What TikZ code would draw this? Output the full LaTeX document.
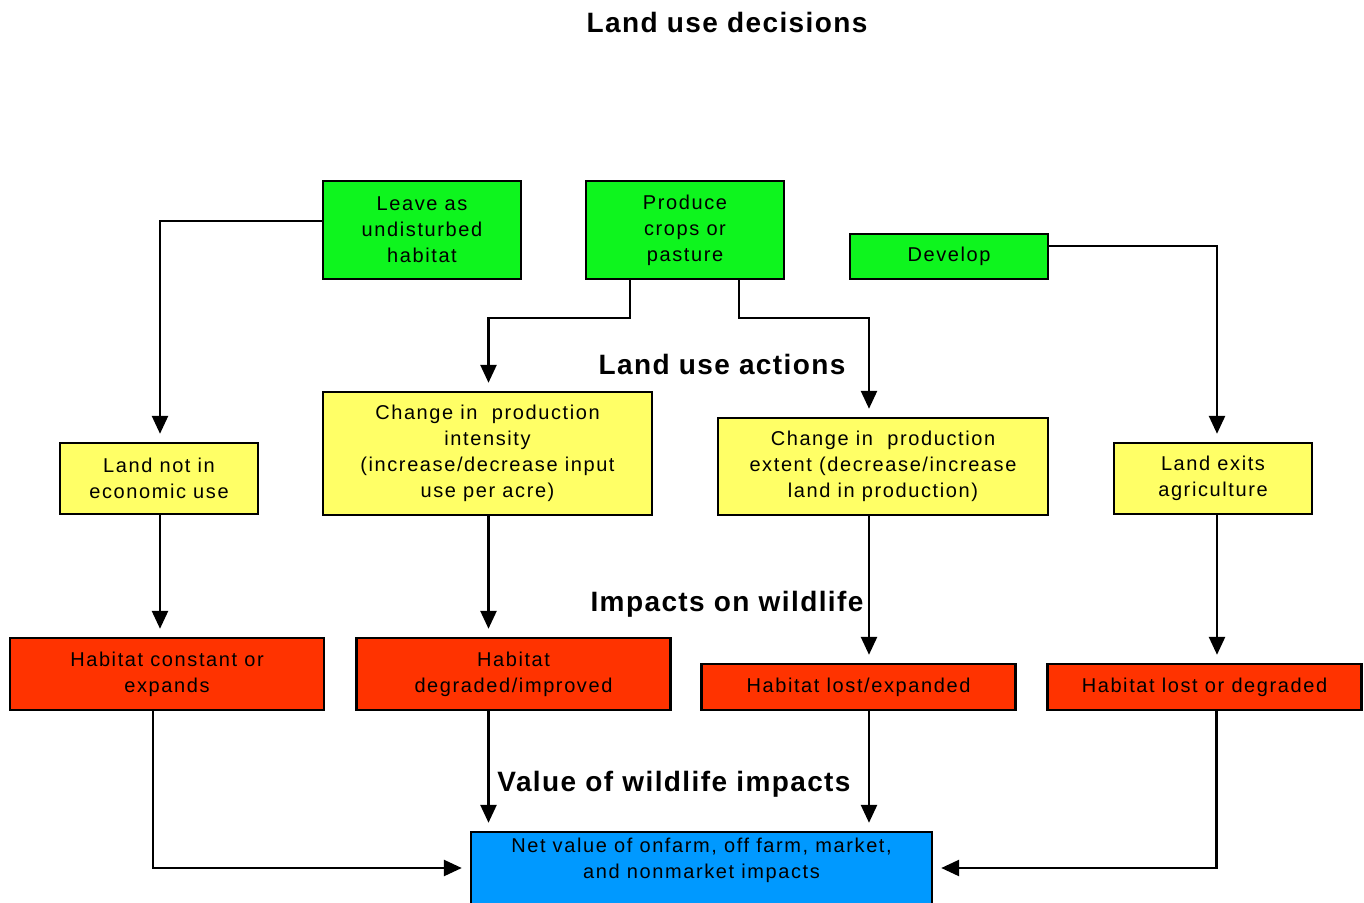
\documentclass[tikz,border=0pt]{standalone}
\usepackage{fontspec}
\setmainfont{Liberation Sans}
\usepackage{xcolor}
\usetikzlibrary{arrows.meta, positioning}
\definecolor{landgreen}{RGB}{14, 245, 30}
\definecolor{landyellow}{RGB}{255, 255, 102}
\definecolor{landred}{RGB}{255, 51, 0}
\definecolor{landblue}{RGB}{0, 153, 255}
\newfontfamily\boxfont[LetterSpace=8]{Liberation Sans}
\newfontfamily\headfont[LetterSpace=5]{Liberation Sans}

\begin{document}
\begin{tikzpicture}[
    x=0.5pt, y=-0.5pt,
    box/.style={draw, line width=1.2pt, align=center, inner sep=2pt, font=\boxfont\fontsize{10}{13}\selectfont},
    decision/.style={box, fill=landgreen, minimum width=99pt},
    action/.style={box, fill=landyellow},
    impact/.style={box, fill=landred, minimum width=157pt},
    value/.style={box, fill=landblue, minimum width=230.5pt},
    trans/.style={-{Triangle[length=9pt, width=8pt]}, line width=1.3pt, shorten >=4pt},
    heading/.style={font=\headfont\bfseries\fontsize{14}{16}\selectfont},
]
\useasboundingbox (0,0) rectangle (1364,903);

% Headings
\node[heading] (hdecide) at (727,22) {Land use decisions};
\node[heading] (hact) at (722,364) {Land use actions};
\node[heading] (himpact) at (727,604) {Impacts on wildlife};
\node[heading] (hvalue) at (674,784) {Value of wildlife impacts};

% Decisions
\node[decision, minimum height=49pt] (leave) at (422,230) {Leave as\\undisturbed\\habitat};
\node[decision, minimum height=49pt] (produce) at (685,230) {Produce\\crops or\\pasture};
\node[decision, minimum height=22.5pt] (develop) at (949,256.5) {Develop};

% Actions
\node[action, minimum width=99pt, minimum height=35.5pt] (notuse) at (159,478.5) {Land not in\\economic use};
\node[action, minimum width=164.5pt, minimum height=61.5pt] (intensity) at (487.5,453.5) {Change in\ \ production\\intensity\\(increase/decrease input\\use per acre)};
\node[action, minimum width=165pt, minimum height=48.5pt] (extent) at (883,466.5) {Change in\ \ production\\extent (decrease/increase\\land in production)};
\node[action, minimum width=99pt, minimum height=35.5pt] (exits) at (1213,478.5) {Land exits\\agriculture};

% Impacts
\node[impact, minimum height=36pt] (constant) at (167,674) {Habitat constant or\\expands};
\node[impact, minimum height=36pt] (degraded) at (513.5,674) {Habitat\\degraded/improved};
\node[impact, minimum height=23pt] (lostexp) at (858.5,687) {Habitat lost/expanded};
\node[impact, minimum height=23pt] (lostdeg) at (1204.5,687) {Habitat lost or degraded};

% Value
\node[value, minimum height=36pt, text depth=10pt] (net) at (701.5,868) {Net value of onfarm, off farm, market,\\and nonmarket impacts};

% Connectors
\draw[trans] ([yshift=4.5pt]leave.west) -| ([xshift=0.5pt]notuse.north);
\draw[trans] ([xshift=-27.5pt]produce.south) -- ++(0,38) -| ([xshift=0.5pt]intensity.north);
\draw[trans] ([xshift=27pt]produce.south) -- ++(0,38) -| ([xshift=-7pt]extent.north);
\draw[trans] ([yshift=5.25pt]develop.east) -| ([xshift=2pt]exits.north);

\draw[trans] ([xshift=0.5pt]notuse.south) -- ([xshift=0.5pt]notuse.south |- constant.north);
\draw[trans] ([xshift=0.5pt]intensity.south) -- ([xshift=0.5pt]intensity.south |- degraded.north);
\draw[trans] ([xshift=-7pt]extent.south) -- ([xshift=5.25pt]lostexp.north);
\draw[trans] ([xshift=2pt]exits.south) -- ([xshift=2pt]exits.south |- lostdeg.north);

\draw[trans] ([xshift=-7pt]constant.south) |- (net.west);
\draw[trans] ([xshift=-12.5pt]degraded.south) -- ([xshift=-106.5pt]net.north);
\draw[trans] ([xshift=5.25pt]lostexp.south) -- ([xshift=83.75pt]net.north);
\draw[trans] ([xshift=6pt]lostdeg.south) |- (net.east);

\end{tikzpicture}
\end{document}
